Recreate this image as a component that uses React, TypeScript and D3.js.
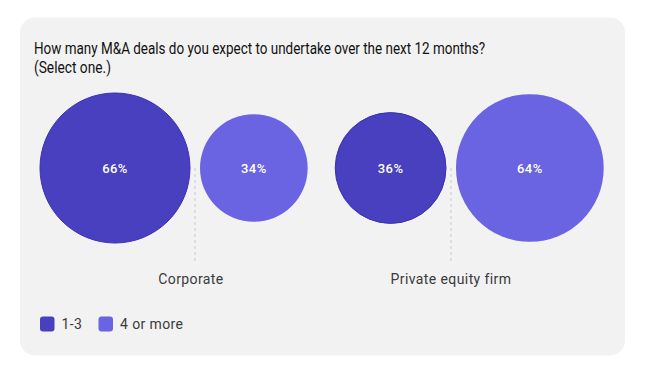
import React from "react";
import * as d3 from "d3";

const title = ["How many M&A deals do you expect to undertake over the next 12 months?", "(Select one.)"];
const groups = ["Corporate", "Private equity firm"];
const seriesNames = ["1-3", "4 or more"];
const values1to3 = [66, 36];
const values4plus = [34, 64];
const seriesColors = ["#4840BE", "#6A63E2"];
const seriesStrokes = ["#3A2FB8", "#6A63E2"];

const W = 650;
const H = 375;

export default function App() {
  const r = d3.scaleSqrt().domain([0, 66]).range([0, 75]);
  const x = d3.scalePoint<string>().domain(groups).range([195, 451]);
  const cy = 168;
  const gap = 5;
  const fontFamily = "Roboto, 'Noto Sans', sans-serif";

  return (
    <svg width={W} height={H} style={{ position: "absolute", left: 0, top: 0, background: "#fff" }}>
      <rect x={20} y={17.5} width={605} height={338} rx={15} ry={15} fill="#f2f2f2" />
      <text x={34} y={53.5} fontFamily={fontFamily} fontSize={17} fontWeight={400} fill="#111" textLength={451} lengthAdjust="spacingAndGlyphs">
        {title[0]}
      </text>
      <text x={34} y={72.5} fontFamily={fontFamily} fontSize={17} fontWeight={400} fill="#111" textLength={77} lengthAdjust="spacingAndGlyphs">
        {title[1]}
      </text>
      {groups.map((g, i) => {
        const gx = x(g) as number;
        const r1 = r(values1to3[i]);
        const r2 = r(values4plus[i]);
        const c1 = gx - gap - r1;
        const c2 = gx + gap + r2;
        return (
          <g key={g}>
            <line x1={gx} x2={gx} y1={cy} y2={263} stroke="#dedede" strokeWidth={2} strokeDasharray="3,3" />
            <circle cx={c1} cy={cy} r={r1} fill={seriesColors[0]} stroke={seriesStrokes[0]} strokeWidth={1} />
            <circle cx={c2} cy={cy} r={r2} fill={seriesColors[1]} />
            <text x={c1} y={cy} dy="0.35em" textAnchor="middle" fontFamily={fontFamily} fontSize={13} fontWeight={500} fill="#fff" letterSpacing={0.4}>
              {values1to3[i]}%
            </text>
            <text x={c2} y={cy} dy="0.35em" textAnchor="middle" fontFamily={fontFamily} fontSize={13} fontWeight={500} fill="#fff" letterSpacing={0.4}>
              {values4plus[i]}%
            </text>
            <text x={i === 0 ? gx - 4 : gx} y={284} textAnchor="middle" fontFamily={fontFamily} fontSize={14} fill="#3a3a3a" letterSpacing={0.4}>
              {g}
            </text>
          </g>
        );
      })}
      {seriesNames.map((s, i) => {
        const lx = i === 0 ? 40 : 98.5;
        return (
          <g key={s}>
            <rect x={lx} y={316.5} width={14.5} height={15} rx={3} fill={seriesColors[i]} />
            <text x={lx + 21.5} y={329} fontFamily={fontFamily} fontSize={14} fill="#3a3a3a" letterSpacing={0.4}>
              {s}
            </text>
          </g>
        );
      })}
    </svg>
  );
}
